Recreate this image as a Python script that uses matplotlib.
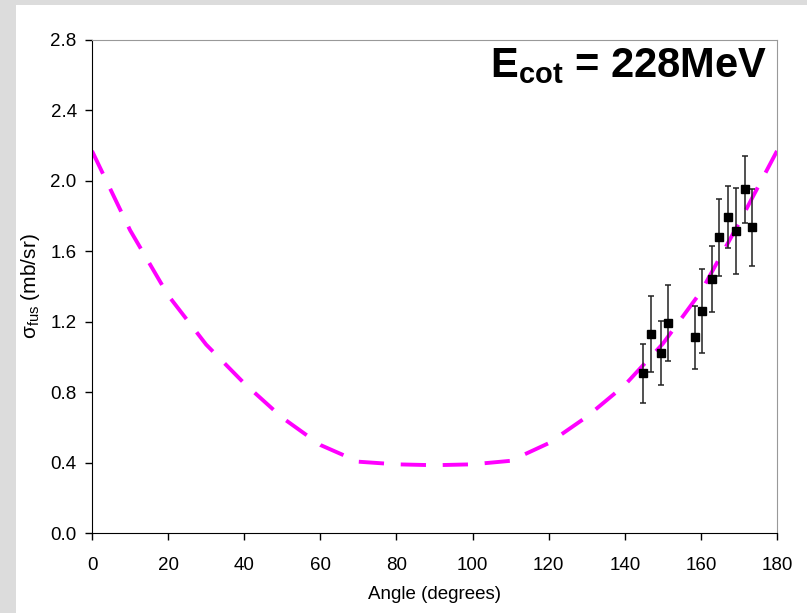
import numpy as np
import matplotlib
matplotlib.use("Agg")
from matplotlib import pyplot as plt
from matplotlib.patches import Rectangle

plt.rcParams['font.family'] = ['Liberation Sans', 'DejaVu Sans']

# 实验数据点
angle_exp = [144.7, 146.8, 149.4, 151.4, 158.4, 160.4, 162.8, 164.7, 167.2, 169.1, 171.6, 173.5]
sigma_exp = [0.907, 1.130, 1.021, 1.193, 1.111, 1.261, 1.443, 1.679, 1.793, 1.715, 1.952, 1.736]
sigma_err = [0.166, 0.214, 0.182, 0.217, 0.179, 0.237, 0.188, 0.218, 0.177, 0.244, 0.189, 0.219]

# 拟合曲线
angle_fit = [0, 10, 20, 30, 40, 50, 60, 70, 80, 90, 100, 110, 120, 130, 140, 150, 160, 170, 180]
sigma_fit = [2.17, 1.72, 1.35, 1.07, 0.85, 0.655, 0.50, 0.405, 0.39, 0.385, 0.39, 0.41,
             0.51, 0.66, 0.84, 1.075, 1.37, 1.76, 2.17]

x_ticks = [0, 20, 40, 60, 80, 100, 120, 140, 160, 180]
y_ticks = [0.0, 0.4, 0.8, 1.2, 1.6, 2.0, 2.4, 2.8]

fig = plt.figure(figsize=(8.07, 6.13), dpi=100)
fig.patch.set_facecolor('#dcdcdc')
# 白色底板
fig.patches.append(Rectangle((16 / 807, 0), 1, 1 - 5 / 613, transform=fig.transFigure,
                             facecolor='white', edgecolor='none', zorder=-5))

ax = fig.add_axes([92 / 807, 1 - 533 / 613, (777 - 92) / 807, (533 - 40) / 613])
ax.set_facecolor('white')

ax.plot(angle_fit, sigma_fit, color='#ff00ff', lw=2.8, dashes=(6.5, 4.3), zorder=2)
ax.errorbar(angle_exp, sigma_exp, yerr=sigma_err, fmt='s', color='black', ms=5.2,
            ecolor='#222222', elinewidth=1.1, capsize=2.4, capthick=1.1, zorder=3)

ax.set_xlim(0, 180)
ax.set_ylim(0, 2.8)
ax.set_xticks(x_ticks)
ax.set_yticks(y_ticks)
ax.set_yticklabels(['%.1f' % v for v in y_ticks])
ax.tick_params(direction='out', length=5, width=1, labelsize=13.5)
ax.tick_params(axis='x', pad=12)
ax.tick_params(axis='y', pad=6)

ax.spines['left'].set_color('black')
ax.spines['bottom'].set_color('black')
ax.spines['top'].set_color('#999999')
ax.spines['right'].set_color('#999999')

ax.set_xlabel('Angle (degrees)', fontsize=13.5, labelpad=9)
ax.set_ylabel(r'$\mathregular{σ_{fus}}$ (mb/sr)', fontsize=15, labelpad=6)

ax.text(0.985, 0.988, r'$\mathregular{E_{cot}}$ = 228MeV', transform=ax.transAxes,
        ha='right', va='top', fontsize=30, fontweight='bold')

fig.savefig('out.png', dpi=100, facecolor=fig.get_facecolor())
